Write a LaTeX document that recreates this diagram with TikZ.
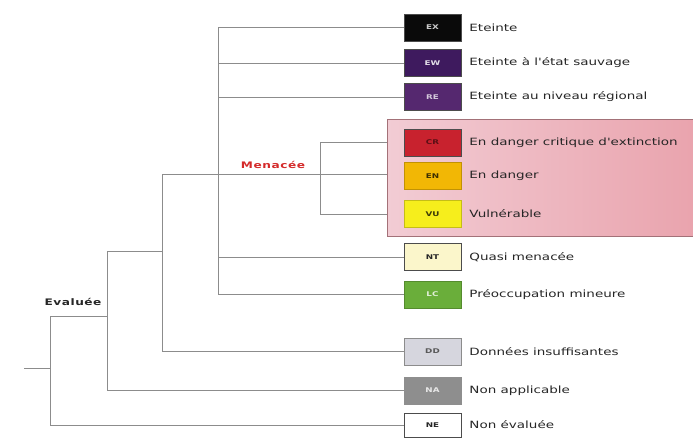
\documentclass[tikz,border=0pt]{standalone}
\usepackage{fontspec}
\newfontfamily\libfont[FakeStretch=1.35]{DejaVu Sans}
\newfontfamily\grpfont[FakeStretch=1.35,LetterSpace=6]{DejaVu Sans}
\usetikzlibrary{positioning}
\definecolor{cEX}{HTML}{0A0A0A}
\definecolor{cEW}{HTML}{3E1A5E}
\definecolor{cRE}{HTML}{55286F}
\definecolor{cCR}{HTML}{C8222E}
\definecolor{cEN}{HTML}{F2B705}
\definecolor{cVU}{HTML}{F6EE1C}
\definecolor{cNT}{HTML}{FBF6CB}
\definecolor{cLC}{HTML}{6AAE3A}
\definecolor{cDD}{HTML}{D6D6DE}
\definecolor{cNA}{HTML}{8E8E8E}
\definecolor{cMen}{HTML}{D42A2A}
\definecolor{rosea}{HTML}{F2CCD4}
\definecolor{roseb}{HTML}{E9A2AC}
\tikzset{
  branche/.style={draw=black!45,line width=0.6pt},
  categorie/.style={draw=black!70,line width=0.5pt,minimum width=57pt,minimum height=27pt,inner sep=0pt,font=\libfont\bfseries\fontsize{6.5}{7}\selectfont},
  libelle/.style={inner sep=2pt,font=\libfont\fontsize{10}{12}\selectfont,text=black!85},
  groupe/.style={font=\grpfont\bfseries\fontsize{9}{11}\selectfont},
  menacebox/.style={left color=rosea,right color=roseb,minimum width=320pt,minimum height=117pt,inner sep=0pt}
}
\begin{document}
\begin{tikzpicture}[x=1pt,y=-1pt]\small
% Mise en place
\useasboundingbox (0,0) rectangle (693,439);
\clip (0,0) rectangle (693,439);
\node[menacebox] (menace) at (547,177.5) {};
\draw[roseb!70!black,line width=0.6pt] (menace.north east) -- (menace.north west) -- (menace.south west) -- (menace.south east);
% Catégories
\node[categorie,fill=cEX,text=white!80!black] (ex) at (432.5,27.5) {EX};
\node[categorie,fill=cEW,text=white!85!cEW] (ew) at (432.5,63) {EW};
\node[categorie,fill=cRE,text=white!75!cRE] (re) at (432.5,97) {RE};
\node[categorie,fill=cCR,text=cCR!45!black] (cr) at (432.5,142.5) {CR};
\node[categorie,fill=cEN,draw=cEN!80!black,text=cEN!25!black] (en) at (432.5,176) {EN};
\node[categorie,fill=cVU,draw=cVU!80!black,text=cVU!25!black] (vu) at (432.5,214) {VU};
\node[categorie,fill=cNT,text=black!85] (nt) at (432.5,257) {NT};
\node[categorie,fill=cLC,draw=cLC!80!black,text=white!80!cLC] (lc) at (432.5,294.5) {LC};
\node[categorie,fill=cDD,draw=black!45,text=black!65] (dd) at (432.5,351.5) {DD};
\node[categorie,fill=cNA,draw=cNA,text=white!80!cNA] (na) at (432.5,390.5) {NA};
\node[categorie,fill=white,text=black!85,minimum height=24pt] (ne) at (432.5,425) {NE};
% Libellés
\node[libelle,right=6pt of ex] (lex) {Eteinte};
\node[libelle,right=6pt of ew] (lew) {Eteinte à l'état sauvage};
\node[libelle,right=6pt of re] (lre) {Eteinte au niveau régional};
\node[libelle,right=6pt of cr] (lcr) {En danger critique d'extinction};
\node[libelle,right=6pt of en] (len) {En danger};
\node[libelle,right=6pt of vu] (lvu) {Vulnérable};
\node[libelle,right=6pt of nt] (lnt) {Quasi menacée};
\node[libelle,right=6pt of lc] (llc) {Préoccupation mineure};
\node[libelle,right=6pt of dd] (ldd) {Données insuffisantes};
\node[libelle,right=6pt of na] (lna) {Non applicable};
\node[libelle,right=6pt of ne] (lne) {Non évaluée};
% Groupes
\node[groupe,text=cMen] (menacee) at (273,165) {Menacée};
\node[groupe,text=black!85] (evaluee) at (73,302) {Evaluée};
% Arbre
\coordinate (racine) at (24,368);
\coordinate (j0) at (50,316);
\coordinate (j1) at (107,251);
\coordinate (j2) at (162,174);
\coordinate (j3) at (218,27.5);
\coordinate (j4) at (320,142.5);
\draw[branche] (racine) -- (racine-|j0);
\draw[branche] (j0) |- (ne.west);
\draw[branche] (j0) -- (j0-|j1);
\draw[branche] (j1) |- (na.west);
\draw[branche] (j1) -- (j1-|j2);
\draw[branche] (j2) |- (dd.west);
\draw[branche] (j2) -- (j2-|menace.west);
\draw[branche] (j3) -- (ex.west);
\draw[branche] (j3) |- (lc.west);
\draw[branche] (j3|-ew.west) -- (ew.west);
\draw[branche] (j3|-re.west) -- (re.west);
\draw[branche] (j3|-nt.west) -- (nt.west);
\draw[branche] (j4) -- (j4-|menace.west);
\draw[branche] (j4) |- (vu.west-|menace.west);
\end{tikzpicture}
\end{document}
